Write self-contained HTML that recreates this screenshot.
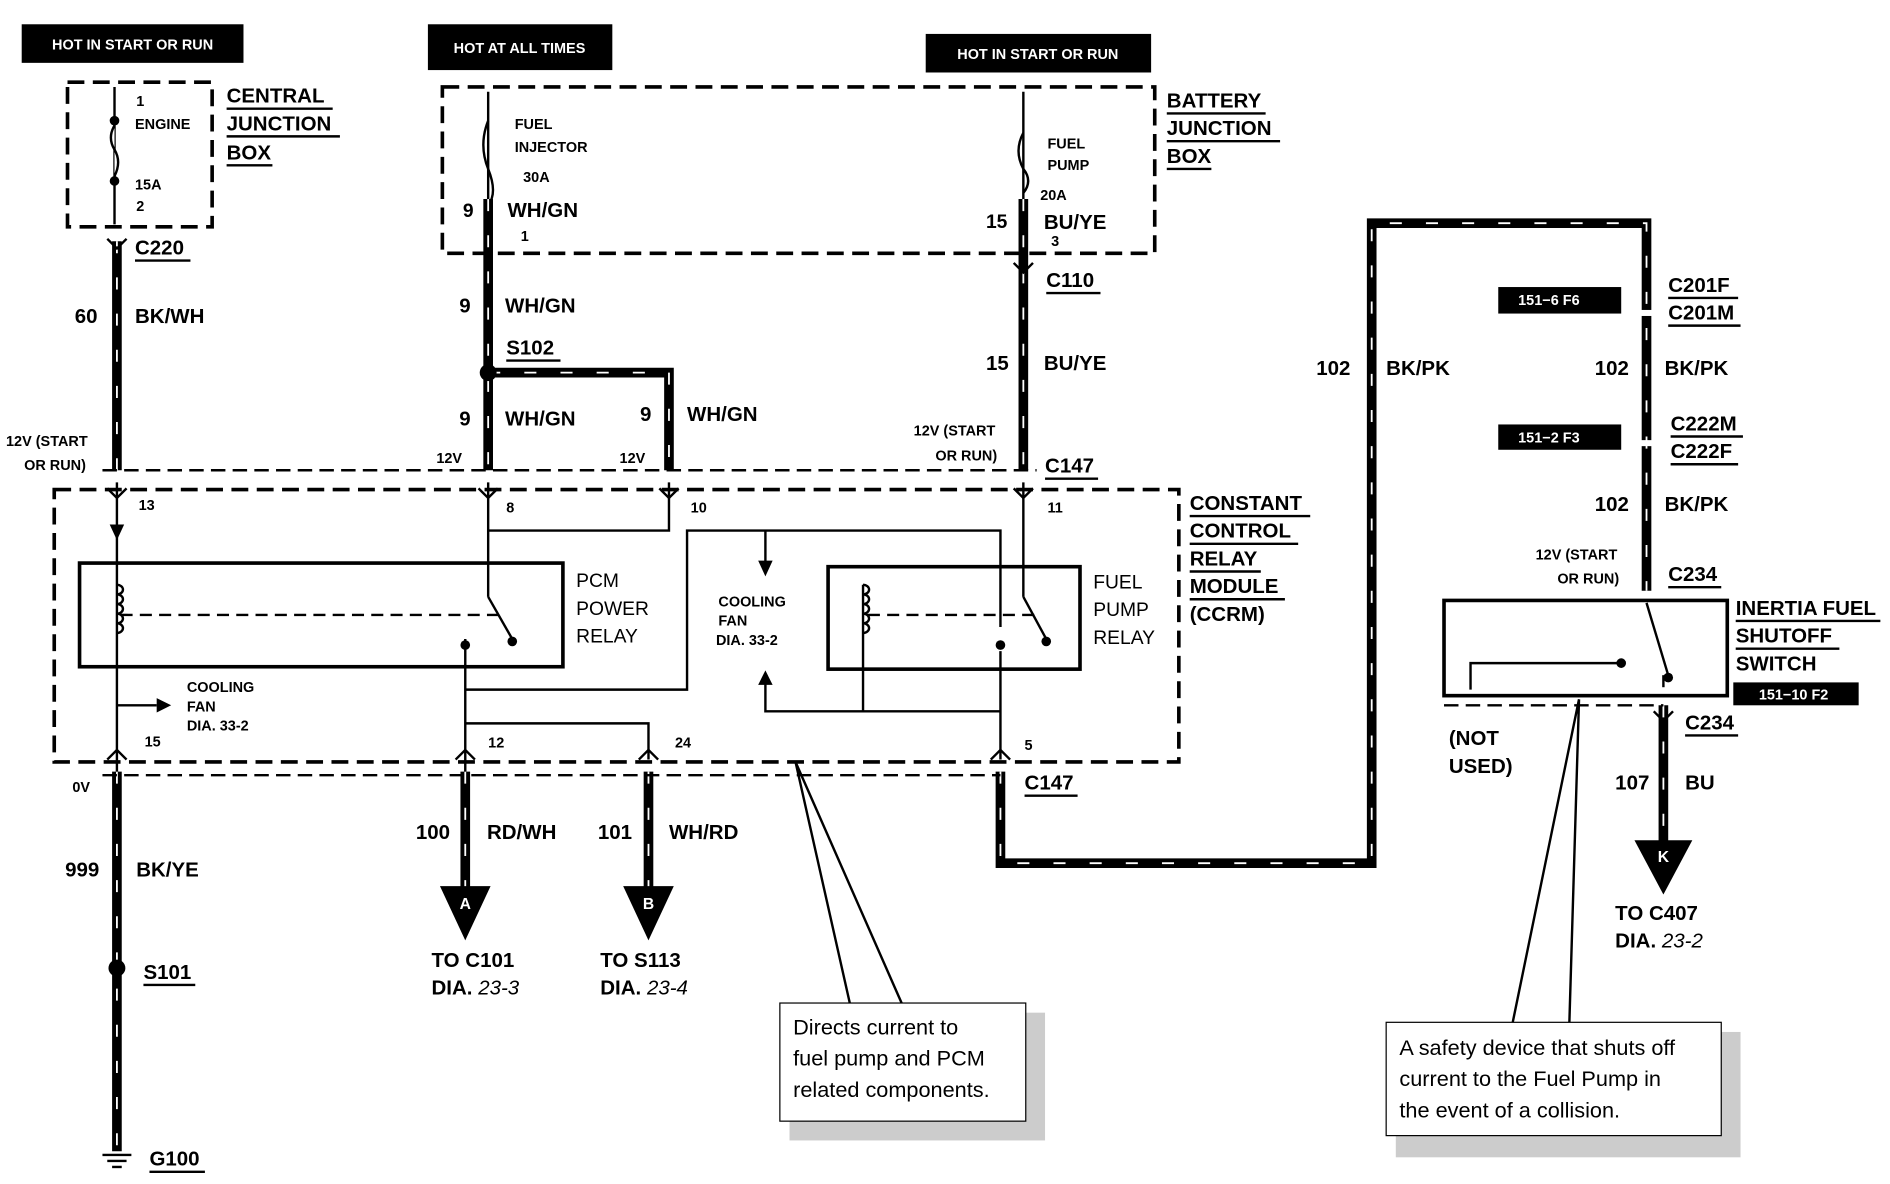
<!DOCTYPE html>
<html><head><meta charset="utf-8"><style>
html,body{margin:0;padding:0;background:#fff;}
svg{display:block;}
text{font-family:"Liberation Sans",Arial,sans-serif;font-weight:bold;fill:#000;}
.s{font-size:12px;}
.m{font-size:16px;}
.l{font-size:17px;}
.w{fill:#fff;font-size:12px;}
.n{font-weight:normal;font-size:18px;}
.wire{stroke:#000;stroke-width:8;fill:none;}
.dash{stroke:#fff;stroke-width:1.5;stroke-dasharray:10 20;fill:none;}
.thin{stroke:#000;stroke-width:2;fill:none;}
.box{stroke:#000;stroke-width:3;fill:none;stroke-dasharray:14 7;}
.bus{stroke:#000;stroke-width:2;fill:none;stroke-dasharray:12 6;}
</style></head><body>
<svg width="1890" height="1184" viewBox="0 0 1568 982" xmlns="http://www.w3.org/2000/svg">
<rect width="1568" height="982" fill="#fff"/>
<rect x="18" y="20" width="184" height="32" fill="#000"/><text x="110" y="41" class="w" text-anchor="middle">HOT IN START OR RUN</text>
<rect x="355" y="20" width="153" height="38" fill="#000"/><text x="431" y="44" class="w" text-anchor="middle">HOT AT ALL TIMES</text>
<rect x="768" y="28" width="187" height="32" fill="#000"/><text x="861" y="49" class="w" text-anchor="middle">HOT IN START OR RUN</text>
<rect x="1243" y="238" width="102" height="22" fill="#000"/><text x="1285" y="253" class="w" text-anchor="middle">151−6 F6</text>
<rect x="1243" y="352" width="102" height="21" fill="#000"/><text x="1285" y="367" class="w" text-anchor="middle">151−2 F3</text>
<rect x="1438" y="566" width="104" height="19" fill="#000"/><text x="1488" y="580" class="w" text-anchor="middle">151−10 F2</text>

<rect x="56" y="68" width="120" height="120" class="box"/>
<rect x="367" y="72" width="591" height="138" class="box"/>
<rect x="45" y="406" width="933" height="226" class="box"/>
<rect x="1198" y="498" width="235" height="79" fill="none" stroke="#000" stroke-width="3"/>
<text x="188" y="85" class="l">CENTRAL</text><line x1="188" y1="90" x2="276" y2="90" class="thin"/>
<text x="188" y="108" class="l">JUNCTION</text><line x1="188" y1="113" x2="282" y2="113" class="thin"/>
<text x="188" y="132" class="l">BOX</text><line x1="188" y1="137" x2="226" y2="137" class="thin"/>
<text x="968" y="89" class="l">BATTERY</text><line x1="968" y1="94" x2="1050" y2="94" class="thin"/>
<text x="968" y="112" class="l">JUNCTION</text><line x1="968" y1="117" x2="1062" y2="117" class="thin"/>
<text x="968" y="135" class="l">BOX</text><line x1="968" y1="140" x2="1005" y2="140" class="thin"/>
<text x="987" y="423" class="l">CONSTANT</text><line x1="987" y1="428" x2="1087" y2="428" class="thin"/>
<text x="987" y="446" class="l">CONTROL</text><line x1="987" y1="451" x2="1077" y2="451" class="thin"/>
<text x="987" y="469" class="l">RELAY</text><line x1="987" y1="474" x2="1046" y2="474" class="thin"/>
<text x="987" y="492" class="l">MODULE</text><line x1="987" y1="497" x2="1066" y2="497" class="thin"/>
<text x="987" y="515" class="l">(CCRM)</text>
<text x="1440" y="510" class="l">INERTIA FUEL</text><line x1="1440" y1="515" x2="1560" y2="515" class="thin"/>
<text x="1440" y="533" class="l">SHUTOFF</text><line x1="1440" y1="538" x2="1526" y2="538" class="thin"/>
<text x="1440" y="556" class="l">SWITCH</text>

<line x1="95" y1="72" x2="95" y2="186" class="thin"/>
<circle cx="95" cy="100" r="4"/><circle cx="95" cy="150" r="4"/>
<path d="M95 104 q-6 10 0 20 q6 10 0 22" fill="#fff" stroke="#000" stroke-width="2"/>
<text x="113" y="88" class="s">1</text><text x="112" y="107" class="s">ENGINE</text><text x="112" y="157" class="s">15A</text><text x="113" y="175" class="s">2</text>
<line x1="405" y1="76" x2="405" y2="205" class="thin"/>
<path d="M405 100 q-8 20 0 40 q8 20 0 30" fill="none" stroke="#000" stroke-width="2"/>
<text x="427" y="107" class="s">FUEL</text><text x="427" y="126" class="s">INJECTOR</text><text x="434" y="151" class="s">30A</text><text x="432" y="200" class="s">1</text>
<line x1="849" y1="76" x2="849" y2="205" class="thin"/>
<path d="M849 110 q-8 15 0 30 q8 10 0 20" fill="none" stroke="#000" stroke-width="2"/>
<text x="869" y="123" class="s">FUEL</text><text x="869" y="141" class="s">PUMP</text><text x="863" y="166" class="s">20A</text><text x="872" y="204" class="s">3</text>

<g>
<path class="wire" d="M97 200 V390"/><path class="dash" d="M97 200 V390"/>
<path class="wire" d="M405 165 V390"/><path class="dash" d="M405 165 V390"/>
<path class="wire" d="M405 309 H555 V390"/><path class="dash" d="M405 309 H555 V390"/>
<path class="wire" d="M849 165 V390"/><path class="dash" d="M849 165 V390"/>
<path class="wire" d="M97 640 V955"/><path class="dash" d="M97 640 V955"/>
<path class="wire" d="M386 640 V740"/><path class="dash" d="M386 640 V740"/>
<path class="wire" d="M538 640 V740"/><path class="dash" d="M538 640 V740"/>
<path class="wire" d="M830 640 V716 H1138 V185 H1366 V490"/><path class="dash" d="M830 640 V716 H1138 V185 H1366 V490"/>
<path class="wire" d="M1380 585 V700"/><path class="dash" d="M1380 585 V700"/>
</g>
<circle cx="405" cy="309" r="7"/><circle cx="97" cy="803" r="7"/>
<rect x="1360" y="257" width="12" height="5" fill="#fff"/><rect x="1360" y="365" width="12" height="5" fill="#fff"/>
<polygon points="365,735 407,735 386,780" fill="#000"/><text x="386" y="754" class="w" text-anchor="middle" style="font-size:13px">A</text>
<polygon points="517,735 559,735 538,780" fill="#000"/><text x="538" y="754" class="w" text-anchor="middle" style="font-size:13px">B</text>
<polygon points="1356,697 1404,697 1380,742" fill="#000"/><text x="1380" y="715" class="w" text-anchor="middle" style="font-size:13px">K</text>
<line x1="85" y1="958" x2="109" y2="958" class="thin"/><line x1="89" y1="963" x2="105" y2="963" class="thin"/><line x1="93" y1="968" x2="101" y2="968" class="thin"/>

<line x1="85" y1="390" x2="860" y2="390" class="bus"/>
<line x1="85" y1="643" x2="830" y2="643" class="bus"/>
<line x1="1198" y1="585" x2="1380" y2="585" class="bus"/>

<g class="thin">
<path d="M97 400 V640"/><path d="M405 400 V495"/><path d="M555 400 V440 H405"/>
<path d="M849 400 V495"/>
<rect x="66" y="467" width="401" height="86" stroke-width="3"/>
<rect x="687" y="470" width="209" height="85" stroke-width="3"/>
<path d="M386 530 V640"/><path d="M386 600 H538 V630"/><path d="M386 572 H570 V440 H830 V520"/>
<path d="M830 540 V630"/><path d="M716 485 V590 H830"/>
<path d="M97 585 H130"/><path d="M635 440 V470"/><path d="M635 560 V590 H716"/>
<path d="M405 495 L425 530"/><path d="M849 495 L868 530"/>
<path d="M97 485 a5 4 0 1 1 0 8 a5 4 0 1 1 0 8 a5 4 0 1 1 0 8 a5 4 0 1 1 0 8 a5 4 0 1 1 0 8"/>
<path d="M716 485 a5 4 0 1 1 0 8 a5 4 0 1 1 0 8 a5 4 0 1 1 0 8 a5 4 0 1 1 0 8 a5 4 0 1 1 0 8"/>
<path d="M100 510 H420" stroke-dasharray="10 6"/><path d="M720 510 H860" stroke-dasharray="10 6"/>
<path d="M1366 500 L1384 560"/><path d="M1220 572 V550 H1345"/><path d="M1380 560 V570"/>
</g>
<polygon points="130,579 142,585 130,591"/><polygon points="629,465 641,465 635,478"/><polygon points="629,568 641,568 635,556"/>
<polygon points="91,435 103,435 97,448"/>
<circle cx="386" cy="535" r="4"/><circle cx="425" cy="532" r="4"/><circle cx="830" cy="535" r="4"/><circle cx="868" cy="532" r="4"/>
<circle cx="1345" cy="550" r="4"/><circle cx="1384" cy="562" r="4"/>
<g class="thin" stroke-width="2">
<path d="M89 405 l8 8 l8 -8"/><path d="M397 405 l8 8 l8 -8"/><path d="M547 405 l8 8 l8 -8"/><path d="M841 405 l8 8 l8 -8"/>
<path d="M89 630 l8 -8 l8 8"/><path d="M378 630 l8 -8 l8 8"/><path d="M530 630 l8 -8 l8 8"/><path d="M822 630 l8 -8 l8 8"/>
<path d="M89 198 l8 8 l8 -8"/><path d="M841 218 l8 8 l8 -8"/><path d="M1372 590 l8 8 l8 -8"/>
</g>
<text x="115" y="423" class="s">13</text><text x="420" y="425" class="s">8</text><text x="573" y="425" class="s">10</text><text x="869" y="425" class="s">11</text>
<text x="120" y="619" class="s">15</text><text x="405" y="620" class="s">12</text><text x="560" y="620" class="s">24</text><text x="850" y="622" class="s">5</text>
<text x="478" y="487" class="m" style="font-weight:normal">PCM</text><text x="478" y="510" class="m" style="font-weight:normal">POWER</text><text x="478" y="533" class="m" style="font-weight:normal">RELAY</text>
<text x="907" y="488" class="m" style="font-weight:normal">FUEL</text><text x="907" y="511" class="m" style="font-weight:normal">PUMP</text><text x="907" y="534" class="m" style="font-weight:normal">RELAY</text>
<text x="596" y="503" class="s">COOLING</text><text x="596" y="519" class="s">FAN</text><text x="594" y="535" class="s">DIA.  33-2</text>
<text x="155" y="574" class="s">COOLING</text><text x="155" y="590" class="s">FAN</text><text x="155" y="606" class="s">DIA.  33-2</text>

<text x="384" y="180" class="m">9</text><text x="421" y="180" class="l">WH/GN</text>
<text x="818" y="189" class="m">15</text><text x="866" y="190" class="l">BU/YE</text>
<text x="112" y="211" class="l">C220</text><line x1="112" y1="216" x2="158" y2="216" class="thin"/>
<text x="868" y="238" class="l">C110</text><line x1="868" y1="243" x2="913" y2="243" class="thin"/>
<text x="62" y="268" class="l">60</text><text x="112" y="268" class="l">BK/WH</text>
<text x="381" y="259" class="l">9</text><text x="419" y="259" class="l">WH/GN</text>
<text x="420" y="294" class="l">S102</text><line x1="420" y1="299" x2="465" y2="299" class="thin"/>
<text x="818" y="307" class="l">15</text><text x="866" y="307" class="l">BU/YE</text>
<text x="381" y="353" class="l">9</text><text x="419" y="353" class="l">WH/GN</text>
<text x="531" y="349" class="l">9</text><text x="570" y="349" class="l">WH/GN</text>
<text x="5" y="370" class="s">12V (START</text><text x="20" y="390" class="s">OR RUN)</text>
<text x="362" y="384" class="s">12V</text><text x="514" y="384" class="s">12V</text>
<text x="758" y="361" class="s">12V (START</text><text x="776" y="382" class="s">OR RUN)</text>
<text x="867" y="392" class="l">C147</text><line x1="867" y1="397" x2="911" y2="397" class="thin"/>
<text x="60" y="657" class="s">0V</text>
<text x="850" y="655" class="l">C147</text><line x1="850" y1="660" x2="894" y2="660" class="thin"/>
<text x="345" y="696" class="l">100</text><text x="404" y="696" class="l">RD/WH</text>
<text x="496" y="696" class="l">101</text><text x="555" y="696" class="l">WH/RD</text>
<text x="54" y="727" class="l">999</text><text x="113" y="727" class="l">BK/YE</text>
<text x="119" y="812" class="l">S101</text><line x1="119" y1="817" x2="162" y2="817" class="thin"/>
<text x="124" y="967" class="l">G100</text><line x1="124" y1="972" x2="170" y2="972" class="thin"/>
<text x="358" y="802" class="l">TO C101</text><text x="358" y="825" class="l">DIA. <tspan font-style="italic" font-weight="normal">23-3</tspan></text>
<text x="498" y="802" class="l">TO S113</text><text x="498" y="825" class="l">DIA. <tspan font-style="italic" font-weight="normal">23-4</tspan></text>
<text x="1092" y="311" class="l">102</text><text x="1150" y="311" class="l">BK/PK</text>
<text x="1323" y="311" class="l">102</text><text x="1381" y="311" class="l">BK/PK</text>
<text x="1323" y="424" class="l">102</text><text x="1381" y="424" class="l">BK/PK</text>
<text x="1384" y="242" class="l">C201F</text><line x1="1384" y1="247" x2="1442" y2="247" class="thin"/>
<text x="1384" y="265" class="l">C201M</text><line x1="1384" y1="270" x2="1444" y2="270" class="thin"/>
<text x="1386" y="357" class="l">C222M</text><line x1="1386" y1="362" x2="1446" y2="362" class="thin"/>
<text x="1386" y="380" class="l">C222F</text><line x1="1386" y1="385" x2="1442" y2="385" class="thin"/>
<text x="1274" y="464" class="s">12V (START</text><text x="1292" y="484" class="s">OR RUN)</text>
<text x="1384" y="482" class="l">C234</text><line x1="1384" y1="487" x2="1428" y2="487" class="thin"/>
<text x="1398" y="605" class="l">C234</text><line x1="1398" y1="610" x2="1442" y2="610" class="thin"/>
<text x="1202" y="618" class="l">(NOT</text><text x="1202" y="641" class="l">USED)</text>
<text x="1340" y="655" class="l">107</text><text x="1398" y="655" class="l">BU</text>
<text x="1340" y="763" class="l">TO C407</text><text x="1340" y="786" class="l">DIA. <tspan font-style="italic" font-weight="normal">23-2</tspan></text>

<path d="M660 632 L748 832 M660 632 L705 832" class="thin" stroke-width="1.2"/>
<path d="M1310 580 L1255 848 M1310 580 L1302 848" class="thin" stroke-width="1.2"/>
<rect x="655" y="840" width="212" height="106" fill="#ccc"/>
<rect x="647" y="832" width="204" height="98" fill="#fff" stroke="#000" stroke-width="1"/>
<text x="658" y="858" class="n">Directs current to</text><text x="658" y="884" class="n">fuel pump and PCM</text><text x="658" y="910" class="n">related components.</text>
<rect x="1158" y="856" width="286" height="104" fill="#ccc"/>
<rect x="1150" y="848" width="278" height="94" fill="#fff" stroke="#000" stroke-width="1"/>
<text x="1161" y="875" class="n">A safety device that shuts off</text><text x="1161" y="901" class="n">current to the Fuel Pump in</text><text x="1161" y="927" class="n">the event of a collision.</text>
</svg>
</body></html>
